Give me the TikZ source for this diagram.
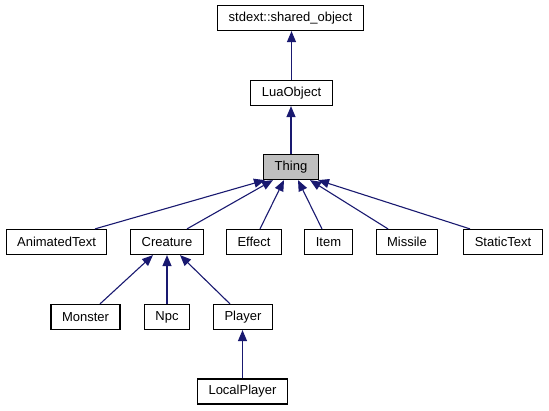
\documentclass[tikz,border=0pt]{standalone}
\usepackage{fontspec}
\setmainfont{Liberation Sans}
\usepackage{xcolor}
\usepackage{tikz}
\usetikzlibrary{arrows.meta, positioning}
\definecolor{edgeblue}{RGB}{25,25,112}
\definecolor{thinggray}{RGB}{191,191,191}
\tikzstyle{classbox} = [draw=black, line width=1.2pt, fill=white, minimum height=25pt, inner xsep=11pt, inner ysep=0pt, font=\fontsize{13}{15}\selectfont]
\tikzstyle{inherit} = [draw=edgeblue, line width=1.1pt, -{Triangle[length=11pt, width=9pt]}]

\begin{document}
\begin{tikzpicture}[x=1pt, y=-1pt]
    \useasboundingbox (0,0) rectangle (549,411);
    % classes
    \node[classbox] (shared) at (290.5,18) {stdext::shared\_object};
    \node[classbox] (luaobj) at (291.5,93) {LuaObject};
    \node[classbox, fill=thinggray] (thing) at (291,167) {Thing};
    \node[classbox] (animtext) at (56.5,242) {AnimatedText};
    \node[classbox] (creature) at (167,242) {Creature};
    \node[classbox] (effect) at (254,242) {Effect};
    \node[classbox] (item) at (328.5,242) {Item};
    \node[classbox] (missile) at (407,242) {Missile};
    \node[classbox] (stattext) at (503,242) {StaticText};
    \node[classbox] (monster) at (85.5,317) {Monster};
    \node[classbox] (npc) at (167,317) {Npc};
    \node[classbox] (player) at (243,317) {Player};
    \node[classbox] (localplayer) at (242.5,391.5) {LocalPlayer};
    % inheritance
    \draw[inherit] (luaobj.north) -- (shared.south -| luaobj.north);
    \draw[inherit] (thing.north) -- (luaobj.south -| thing.north);
    \draw[inherit] ([xshift=38.5pt]animtext.north) -- ([xshift=-26pt]thing.south);
    \draw[inherit] ([xshift=20pt]creature.north) -- ([xshift=-18pt]thing.south);
    \draw[inherit] ([xshift=6pt]effect.north) -- ([xshift=-7pt]thing.south);
    \draw[inherit] ([xshift=-6.5pt]item.north) -- ([xshift=7pt]thing.south);
    \draw[inherit] ([xshift=-19pt]missile.north) -- ([xshift=19pt]thing.south);
    \draw[inherit] ([xshift=-33pt]stattext.north) -- ([xshift=27pt]thing.south);
    \draw[inherit] ([xshift=14.5pt]monster.north) -- ([xshift=-14pt]creature.south);
    \draw[inherit] (npc.north) -- (creature.south);
    \draw[inherit] ([xshift=-13pt]player.north) -- ([xshift=13pt]creature.south);
    \draw[inherit] (localplayer.north) -- (player.south -| localplayer.north);
\end{tikzpicture}
\end{document}
